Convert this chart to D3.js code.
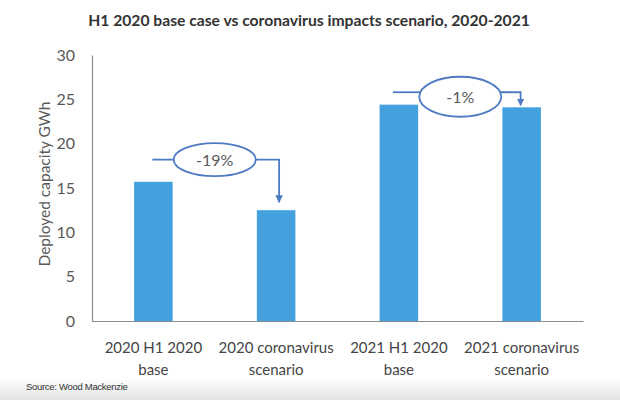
<!DOCTYPE html>
<html>
<head>
<meta charset="utf-8">
<script src="https://cdn.jsdelivr.net/npm/d3@7"></script>
<style>
  html, body { margin: 0; padding: 0; background: #fff; }
  svg { display: block; }
  text { font-family: Lato, "Open Sans", sans-serif; }
</style>
</head>
<body>
<svg id="chart" width="620" height="400"></svg>
<script>
// ---- data ----
const categories = ["2020 H1 2020 base", "2020 coronavirus scenario", "2021 H1 2020 base", "2021 coronavirus scenario"];
const labelLines = [["2020 H1 2020", "base"], ["2020 coronavirus", "scenario"], ["2021 H1 2020", "base"], ["2021 coronavirus", "scenario"]];
const values = [15.7, 12.5, 24.4, 24.1];
const yTicks = [0, 5, 10, 15, 20, 25, 30];
const annotLabels = ["-19%", "-1%"];
const annotFrom = [0, 2];
const annotTo = [1, 3];
const annotLevel = [18.2, 25.8];
const titleText = "H1 2020 base case vs coronavirus impacts scenario, 2020-2021";
const yTitle = "Deployed capacity GWh";
const sourceText = "Source: Wood Mackenzie";

// ---- layout ----
const W = 620, H = 400;
const plot = { left: 92, right: 583, top: 55, bottom: 321 };
const barColor = "#45a1dd";
const annColor = "#4f7bc4";
const textGray = "#595959";

const svg = d3.select("#chart");

// bottom gradient
const defs = svg.append("defs");
const grad = defs.append("linearGradient").attr("id", "bg").attr("x1", 0).attr("y1", 0).attr("x2", 0).attr("y2", 1);
grad.append("stop").attr("offset", "0%").attr("stop-color", "#ffffff");
grad.append("stop").attr("offset", "100%").attr("stop-color", "#e2e2e2");
svg.append("rect").attr("x", 0).attr("y", 378).attr("width", W).attr("height", 22).attr("fill", "url(#bg)");

const x = d3.scaleBand().domain(categories).range([plot.left, plot.right])
  .paddingInner(0.686).paddingOuter(0.343);
const y = d3.scaleLinear().domain([0, 30]).range([plot.bottom, plot.top]);

// bars
svg.append("g").selectAll("rect").data(values).join("rect")
  .attr("x", (d, i) => x(categories[i]))
  .attr("y", d => y(d))
  .attr("width", x.bandwidth())
  .attr("height", d => y(0) - y(d))
  .attr("fill", barColor);

// y axis
const yAxis = d3.axisLeft(y).tickValues(yTicks).tickSize(0).tickPadding(17);
const gy = svg.append("g").attr("transform", `translate(${plot.left},0)`).call(yAxis);
gy.select(".domain").attr("stroke", "#8c8c8c").attr("stroke-width", 1.2);
gy.selectAll("text").attr("fill", textGray).style("font-size", "16px").style("font-family", "Lato, sans-serif");

// x axis
const xAxis = d3.axisBottom(x).tickSize(0).tickFormat("");
const gx = svg.append("g").attr("transform", `translate(0,${plot.bottom})`).call(xAxis);
gx.select(".domain").attr("stroke", "#8c8c8c").attr("stroke-width", 1.2);

// x labels (two lines)
const xl = svg.append("g").selectAll("text").data(categories).join("text")
  .attr("x", d => x(d) + x.bandwidth() / 2)
  .attr("text-anchor", "middle")
  .attr("fill", "#454545")
  .style("font-size", "15px");
xl.each(function(d, i) {
  const t = d3.select(this);
  labelLines[i].forEach((ln, k) => {
    t.append("tspan").attr("x", x(d) + x.bandwidth() / 2).attr("y", 353 + k * 22).text(ln);
  });
});

// y title
svg.append("text")
  .attr("transform", `translate(50,184) rotate(-90)`)
  .attr("text-anchor", "middle")
  .attr("fill", textGray)
  .style("font-size", "15.5px")
  .text(yTitle);

// title, sized to span the same width as the reference
const tt = svg.append("text")
  .attr("x", 309).attr("y", 26)
  .attr("text-anchor", "middle")
  .attr("fill", "#333333")
  .style("font-size", "14px").style("font-weight", "bold")
  .text(titleText);
const tw = tt.node().getComputedTextLength();
if (tw > 0) tt.style("font-size", (14 * 442 / tw).toFixed(2) + "px");

// source
svg.append("text")
  .attr("x", 26).attr("y", 390)
  .attr("fill", "#333")
  .style("font-family", "'Liberation Sans', Arial, sans-serif")
  .style("font-size", "9.5px")
  .style("letter-spacing", "-0.3px")
  .text(sourceText);

// annotations
const rx = 41, ry = [16.5, 20];
defs.append("marker").attr("id", "arrow").attr("viewBox", "0 0 10 10")
  .attr("refX", 9).attr("refY", 5).attr("markerWidth", 4.2).attr("markerHeight", 4.2)
  .attr("markerUnits", "strokeWidth").attr("orient", "auto")
  .append("path").attr("d", "M0,0 L10,5 L0,10 z").attr("fill", annColor);

const ann = svg.append("g");
annotLabels.forEach((lab, i) => {
  const c0 = x(categories[annotFrom[i]]) + x.bandwidth() / 2;
  const c1 = x(categories[annotTo[i]]) + x.bandwidth() / 2;
  const ly = y(annotLevel[i]);
  const cx = (c0 + c1) / 2;
  const cy = i === 0 ? ly : ly + 4.5;
  const startX = i === 0 ? c0 - 1 : c0 - 6;
  const endX = c1 + (i === 0 ? 3 : -1);
  const tipY = y(values[annotTo[i]]) - (i === 0 ? 8 : 2);
  // left connector
  ann.append("line").attr("x1", startX).attr("y1", ly).attr("x2", cx - rx + (i === 0 ? 0 : 3)).attr("y2", ly)
    .attr("stroke", annColor).attr("stroke-width", 1.8);
  // right connector with arrow
  ann.append("path")
    .attr("d", `M${cx + rx - (i === 0 ? 0 : 3)},${ly} L${endX},${ly} L${endX},${tipY}`)
    .attr("fill", "none").attr("stroke", annColor).attr("stroke-width", 1.8)
    .attr("marker-end", "url(#arrow)");
  ann.append("ellipse").attr("cx", cx).attr("cy", cy).attr("rx", rx).attr("ry", ry[i])
    .attr("fill", "#fff").attr("stroke", annColor).attr("stroke-width", 1.8);
  ann.append("text").attr("x", cx).attr("y", cy + 6).attr("text-anchor", "middle")
    .attr("fill", textGray).style("font-size", "16px").text(lab);
});
</script>
</body>
</html>
